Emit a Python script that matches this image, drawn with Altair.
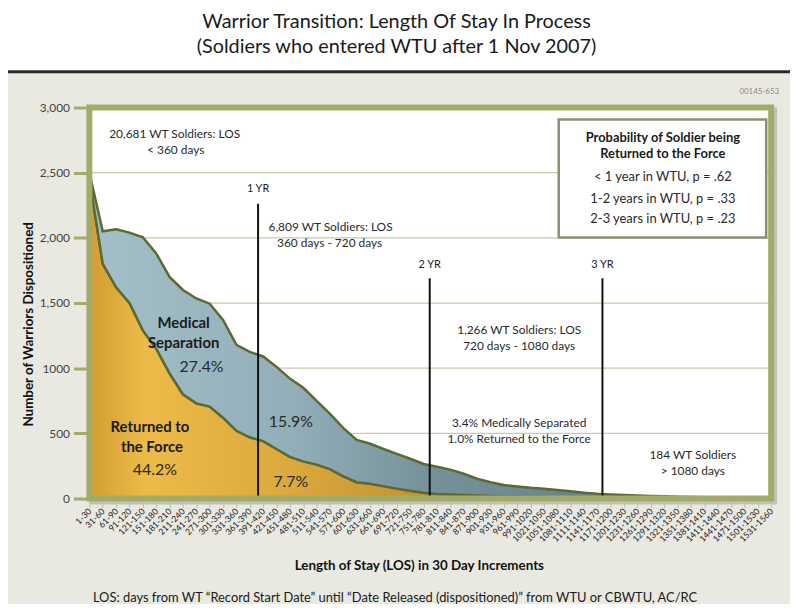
import altair as alt
import pandas as pd

# ---------------- data ----------------
los_labels = [
    "1-30", "31-60", "61-90", "91-120", "121-150", "151-180", "181-210", "211-240",
    "241-270", "271-300", "301-330", "331-360", "361-390", "391-420", "421-450",
    "451-480", "481-510", "511-540", "541-570", "571-600", "601-630", "631-660",
    "661-690", "691-720", "721-750", "751-780", "781-810", "811-840", "841-870",
    "871-900", "901-930", "931-960", "961-990", "991-1020", "1021-1050", "1051-1080",
    "1081-1110", "1111-1140", "1141-1170", "1171-1200", "1201-1230", "1231-1260",
    "1261-1290", "1291-1320", "1321-1350", "1351-1380", "1381-1410", "1411-1440",
    "1441-1470", "1471-1500", "1501-1530", "1531-1560",
]
total_dispositioned = [
    2500, 2050, 2065, 2040, 2005, 1880, 1700, 1600, 1535, 1495, 1370, 1180, 1125,
    1090, 1010, 920, 850, 750, 650, 540, 450, 420, 380, 343, 305, 265, 244, 222,
    190, 152, 125, 104, 92, 82, 75, 66, 56, 45, 36, 31, 27, 24, 20, 17, 14, 12,
    10, 8, 6, 5, 4, 3,
]
returned_to_force = [
    2460, 1800, 1620, 1500, 1290, 1150, 960, 800, 730, 705, 620, 520, 470, 440,
    380, 320, 285, 260, 225, 170, 125, 114, 95, 76, 60, 45, 35, 30, 27, 23, 20,
    17, 15, 13, 12, 10, 9, 8, 7, 6, 5, 4, 4, 3, 3, 2, 2, 2, 1, 1, 1, 1,
]
y_ticks = [0, 500, 1000, 1500, 2000, 2500, 3000]
grid_values = [500, 1000, 1500, 2000, 2500]

year_labels = ["1 YR", "2 YR", "3 YR"]
year_pos = [12.62, 25.46, 38.38]
year_top = [2261, 1690, 1690]
year_label_y = [2376, 1789, 1789]

note_text = [
    "20,681 WT Soldiers: LOS", "< 360 days",
    "6,809 WT Soldiers: LOS", "360 days - 720 days",
    "1,266 WT Soldiers: LOS", "720 days - 1080 days",
    "3.4% Medically Separated", "1.0% Returned to the Force",
    "184 WT Soldiers", "> 1080 days",
]
note_x = [6.38, 6.46, 18.04, 17.97, 32.15, 32.15, 32.15, 32.15, 45.14, 45.14]
note_y = [2794, 2673, 2086, 1957, 1294, 1173, 579, 457, 335, 213]

bold_text = ["Medical", "Separation", "Returned to", "the Force"]
bold_x = [7.05, 7.05, 4.53, 4.68]
bold_y = [1348, 1195, 548, 396]

pct_text = ["27.4%", "15.9%", "44.2%", "7.7%"]
pct_x = [8.39, 15.07, 4.9, 15.07]
pct_y = [1005, 586, 221, 129]

box_title = ["Probability of Soldier being", "Returned to the Force"]
box_title_y = [2764, 2642]
box_lines = ["< 1 year in WTU, p = .62", "1-2 years in WTU, p = .33", "2-3 years in WTU, p = .23"]
box_lines_y = [2467, 2299, 2147]
box_x = 42.9
box_extent = [35.11, 50.63, 2908, 2002]

# ---------------- layout ----------------
W, H = 687, 394
FONT = "Lato"
OLIVE = "#a2ab68"
X_SCALE = alt.Scale(domain=[0, 51], nice=False, zero=False)
Y_SCALE = alt.Scale(domain=[0, 3000], nice=False)

df = pd.DataFrame({
    "idx": list(range(len(los_labels))),
    "total": total_dispositioned,
    "returned": returned_to_force,
    "base": [0] * len(los_labels),
})
one = pd.DataFrame({"d": [0]})

label_array = "[" + ",".join("'" + s + "'" for s in los_labels) + "]"

X_AXIS = alt.Axis(
    values=list(range(len(los_labels))), labelExpr=label_array + "[datum.value]",
    labelAngle=315, labelAlign="right", labelBaseline="middle", labelFont=FONT,
    labelFontSize=8.7, labelColor="#222", labelPadding=2, labelOverlap=False,
    labelFlush=False, labelBound=False, tickSize=5, tickColor="#bbbbbb", tickWidth=1,
    offset=4, domain=False, grid=False, zindex=1, orient="bottom",
    title="Length of Stay (LOS) in 30 Day Increments", titleFont=FONT,
    titleFontSize=13.5, titleFontWeight="bold", titleColor="#111",
    titleX=332, titleY=64, titleAlign="center", titleBaseline="middle",
)
Y_AXIS = alt.Axis(
    values=y_ticks,
    labelExpr="datum.value == 1000 ? '1000' : format(datum.value, ',')",
    labelFont=FONT, labelFontSize=12, labelColor="#444", labelPadding=4,
    tickColor=OLIVE, tickWidth=3, tickSize=16, domain=False, grid=False, zindex=1,
    orient="left",
    title="Number of Warriors Dispositioned", titleFont=FONT, titleFontSize=13.5,
    titleFontWeight="bold", titleColor="#111", titleX=-61, titleY=218,
    titleAngle=270, titleAlign="center", titleBaseline="middle",
)


def X(field):
    return alt.X(field, scale=X_SCALE, axis=X_AXIS)


def Y(field):
    return alt.Y(field, scale=Y_SCALE, axis=Y_AXIS, stack=None)


# backgrounds
gray_bg = alt.Chart(one).mark_rect(fill="#e9e9e1").encode(
    x=alt.value(-82), x2=alt.value(710), y=alt.value(-35), y2=alt.value(520))
title_rule = alt.Chart(one).mark_rule(color="#2a2a2a", strokeWidth=3).encode(
    x=alt.value(-82), x2=alt.value(710), y=alt.value(-36))
frame_shadow = alt.Chart(one).mark_rect(fillOpacity=0, stroke="#c2c2b8", strokeWidth=6).encode(
    x=alt.value(3), x2=alt.value(W + 3), y=alt.value(3), y2=alt.value(H + 3))
white_bg = alt.Chart(one).mark_rect(fill="white").encode(
    x=alt.value(0), x2=alt.value(W), y=alt.value(0), y2=alt.value(H))

grid = alt.Chart(pd.DataFrame({"g": grid_values})).mark_rule(
    color="#c9c9ab", strokeWidth=1.3).encode(
    y=Y("g:Q"), x=alt.value(0), x2=alt.value(W))

orange_fill = alt.Gradient(
    gradient="linear", x1=0, x2=1, y1=0, y2=0,
    stops=[alt.GradientStop(color="#d29c33", offset=0),
           alt.GradientStop(color="#ecbb47", offset=0.08),
           alt.GradientStop(color="#dba83d", offset=0.3),
           alt.GradientStop(color="#b88c2e", offset=0.55),
           alt.GradientStop(color="#9a7a2c", offset=1)])
blue_fill = alt.Gradient(
    gradient="linear", x1=0, x2=1, y1=0, y2=0,
    stops=[alt.GradientStop(color="#a3bfc8", offset=0),
           alt.GradientStop(color="#92afb9", offset=0.3),
           alt.GradientStop(color="#75919a", offset=0.5),
           alt.GradientStop(color="#5a7379", offset=1)])

returned_area = alt.Chart(df).mark_area(
    fill=orange_fill, stroke="#5b6a33", strokeWidth=2.5, interpolate="linear").encode(
    x=X("idx:Q"), y=Y("returned:Q"), y2=alt.Y2("base:Q"))
medical_area = alt.Chart(df).mark_area(
    fill=blue_fill, stroke="#5b6a33", strokeWidth=2.5, interpolate="linear").encode(
    x=X("idx:Q"), y=Y("total:Q"), y2=alt.Y2("returned:Q"))

years = pd.DataFrame({"label": year_labels, "x": year_pos, "top": year_top,
                      "ly": year_label_y, "base": [0, 0, 0]})
year_rules = alt.Chart(years).mark_rule(color="#111", strokeWidth=2).encode(
    x=X("x:Q"), y=Y("top:Q"), y2=alt.Y2("base:Q"))
year_text = alt.Chart(years).mark_text(font=FONT, fontSize=11, color="#222").encode(
    x=X("x:Q"), y=Y("ly:Q"), text="label:N")

frame = alt.Chart(one).mark_rect(fillOpacity=0, stroke=OLIVE, strokeWidth=6).encode(
    x=alt.value(0), x2=alt.value(W), y=alt.value(0), y2=alt.value(H))


def text_layer(texts, xs, ys, size, weight="normal", color="#2a2a2a"):
    d = pd.DataFrame({"t": texts, "x": xs, "y": ys})
    return alt.Chart(d).mark_text(
        font=FONT, fontSize=size, fontWeight=weight, color=color,
        align="center", baseline="middle").encode(
        x=X("x:Q"), y=Y("y:Q"), text="t:N")


notes = text_layer(note_text, note_x, note_y, 12)
bold_labels = text_layer(bold_text, bold_x, bold_y, 15, "bold", "#1a1a1a")
pct_labels = text_layer(pct_text, pct_x, pct_y, 16, "normal", "#2a2a2a")

box_df = pd.DataFrame({"x": [box_extent[0]], "x2": [box_extent[1]],
                       "y": [box_extent[2]], "y2": [box_extent[3]]})
box_shadow = alt.Chart(box_df).mark_rect(fill="#c4c4bc").encode(
    x=X("x:Q"), x2="x2:Q", y=Y("y:Q"), y2="y2:Q",
    xOffset=alt.value(3), yOffset=alt.value(3))
box = alt.Chart(box_df).mark_rect(fill="white", stroke="#8d8d72", strokeWidth=2.5).encode(
    x=X("x:Q"), x2="x2:Q", y=Y("y:Q"), y2="y2:Q")
box_titles = text_layer(box_title, [box_x] * 2, box_title_y, 13, "bold", "#1a1a1a")
box_texts = text_layer(box_lines, [box_x] * 3, box_lines_y, 13, "normal", "#2a2a2a")

footnote = alt.Chart(one).mark_text(
    font=FONT, fontSize=13, color="#1a1a1a", align="center", baseline="middle",
    text="LOS: days from WT \u201cRecord Start Date\u201d until \u201cDate Released (dispositioned)\u201d from WTU or CBWTU, AC/RC",
).encode(x=alt.value(308), y=alt.value(494))
code = alt.Chart(one).mark_text(
    font=FONT, fontSize=8, color="#8a8a8a", align="right", baseline="middle",
    text="00145-653").encode(x=alt.value(695), y=alt.value(-16))

chart = alt.layer(
    gray_bg, title_rule, frame_shadow, white_bg, grid, returned_area, medical_area,
    year_rules, year_text, frame, notes, bold_labels, pct_labels,
    box_shadow, box, box_titles, box_texts, footnote, code,
).properties(
    width=W, height=H,
    title=alt.TitleParams(
        text=["Warrior Transition: Length Of Stay In Process",
              "(Soldiers who entered WTU after 1 Nov 2007)"],
        font=FONT, fontSize=20, fontWeight="normal", color="#1a1a1a",
        anchor="middle", frame="group", dx=-34, offset=13, lineHeight=26),
    autosize=alt.AutoSizeParams(type="none"),
    padding={"left": 82, "top": 98, "right": 19, "bottom": 104},
).configure(background="white").configure_view(stroke=None)

chart.save("out.html", embed_options={"renderer": "svg", "actions": False})
